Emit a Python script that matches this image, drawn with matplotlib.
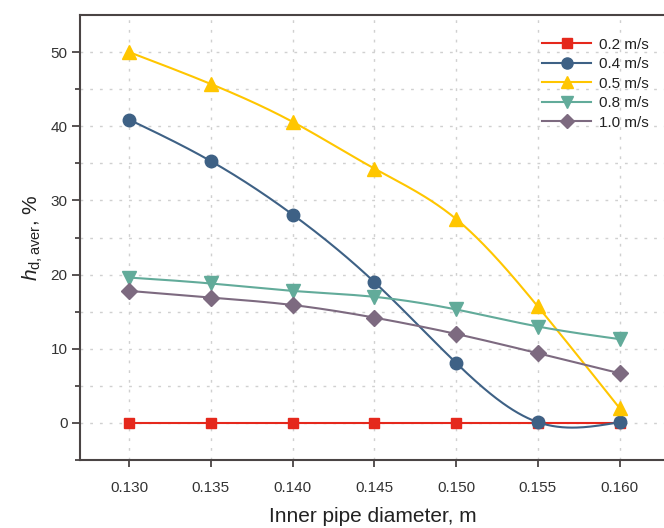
import numpy as np
import matplotlib
matplotlib.use("Agg")
import matplotlib.pyplot as plt
from matplotlib.ticker import FixedLocator

plt.rcParams['font.family'] = ['Liberation Sans', 'DejaVu Sans']
plt.rcParams['mathtext.fontset'] = 'custom'
plt.rcParams['mathtext.rm'] = 'Liberation Sans'
plt.rcParams['mathtext.it'] = 'Liberation Sans:italic'

diameters = [0.130, 0.135, 0.140, 0.145, 0.150, 0.155, 0.160]
labels = ["0.2 m/s", "0.4 m/s", "0.5 m/s", "0.8 m/s", "1.0 m/s"]
v02 = [0.0, 0.0, 0.0, 0.0, 0.0, 0.0, 0.0]
v04 = [40.9, 35.3, 28.1, 19.0, 8.1, 0.1, 0.1]
v05 = [50.0, 45.7, 40.6, 34.3, 27.5, 15.7, 2.0]
v08 = [19.6, 18.8, 17.8, 17.0, 15.3, 13.0, 11.3]
v10 = [17.8, 16.9, 15.9, 14.2, 12.0, 9.4, 6.7]
series = [v02, v04, v05, v08, v10]
colors = ["#E5281C", "#3E6185", "#FFC600", "#62AB9A", "#7D6A80"]
markers = ["s", "o", "^", "v", "D"]
msizes = [7.5, 9, 10, 10, 8]


def natural_spline(x, y, n=300):
    x = np.asarray(x, float)
    y = np.asarray(y, float)
    m = len(x)
    h = np.diff(x)
    A = np.zeros((m, m))
    r = np.zeros(m)
    A[0, 0] = 1
    A[-1, -1] = 1
    for i in range(1, m - 1):
        A[i, i - 1] = h[i - 1]
        A[i, i] = 2 * (h[i - 1] + h[i])
        A[i, i + 1] = h[i]
        r[i] = 3 * ((y[i + 1] - y[i]) / h[i] - (y[i] - y[i - 1]) / h[i - 1])
    c = np.linalg.solve(A, r)
    b = np.zeros(m - 1)
    d = np.zeros(m - 1)
    for i in range(m - 1):
        b[i] = (y[i + 1] - y[i]) / h[i] - h[i] * (2 * c[i] + c[i + 1]) / 3
        d[i] = (c[i + 1] - c[i]) / (3 * h[i])
    xs = np.linspace(x[0], x[-1], n)
    idx = np.clip(np.searchsorted(x, xs) - 1, 0, m - 2)
    dx = xs - x[idx]
    ys = y[idx] + b[idx] * dx + c[idx] * dx ** 2 + d[idx] * dx ** 3
    return xs, ys


fig = plt.figure(figsize=(6.64, 5.28), dpi=100)
ax = fig.add_axes([80 / 664, 68 / 528, 1.0 - 80 / 664 + 0.002, (460 - 15) / 528])

for ys, lab, col, mk, ms in zip(series, labels, colors, markers, msizes):
    xs, yy = natural_spline(diameters, ys)
    ax.plot(xs, yy, color=col, lw=1.5, zorder=2)
    ax.plot(diameters, ys, linestyle='none', marker=mk, color=col, markersize=ms, zorder=3)
    ax.plot([], [], color=col, lw=1.5, marker=mk, markersize=ms - 1, label=lab)

ax.set_xlim(0.1270, 0.1628)
ax.set_ylim(-5, 55)
ax.xaxis.set_major_locator(FixedLocator(diameters))
ax.set_xticklabels([f"{d:.3f}" for d in diameters])
ax.set_yticks([0, 10, 20, 30, 40, 50])
ax.set_yticks([-5, 5, 15, 25, 35, 45], minor=True)

ax.grid(True, which='both', axis='y', color='#D0D0D0', linestyle=(0, (2, 5)), lw=1)
ax.grid(True, which='major', axis='x', color='#D0D0D0', linestyle=(0, (2, 5)), lw=1)
ax.set_axisbelow(True)

for s in ['left', 'bottom', 'top', 'right']:
    ax.spines[s].set_color('#4A4444')
    ax.spines[s].set_linewidth(1.5)

ax.tick_params(axis='y', which='major', direction='out', length=6, width=1.3, color='#4A4444',
               labelsize=11, labelcolor='#333333', pad=3)
ax.tick_params(axis='y', which='minor', direction='out', length=3.5, width=1.3, color='#4A4444')
ax.tick_params(axis='x', which='major', direction='out', length=5, width=1.3, color='#4A4444',
               labelsize=11, labelcolor='#333333', pad=10)

ax.set_xlabel("Inner pipe diameter, m", fontsize=15, color='#222222', labelpad=9)
ax.set_ylabel(r"$\mathit{h}_{\mathrm{d,aver}}$, %", fontsize=15, color='#222222', labelpad=4)

leg = ax.legend(loc='upper right', bbox_to_anchor=(0.995, 0.98), frameon=False, fontsize=11,
                handlelength=3.2, labelspacing=0.36, handletextpad=0.5)
for t in leg.get_texts():
    t.set_color('#222222')

fig.savefig("out.png", dpi=100)
